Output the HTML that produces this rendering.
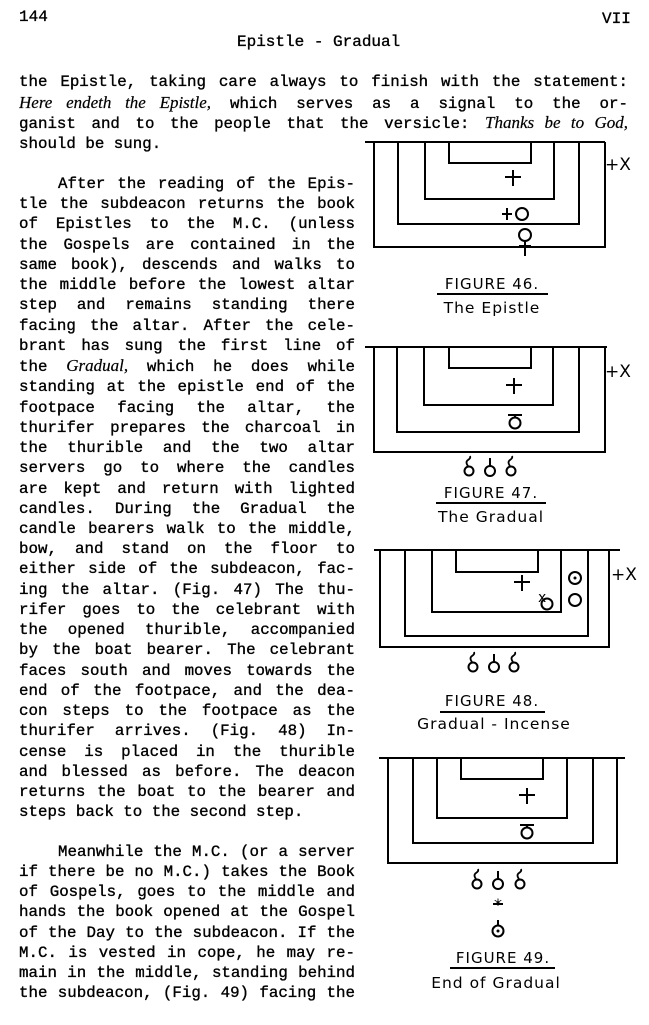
<!DOCTYPE html>
<html><head><meta charset="utf-8"><style>
body{margin:0;background:#fff;}
#p{position:relative;width:649px;height:1025px;overflow:hidden;background:#fff;color:#000;font-family:"Liberation Mono",monospace;}
.t{position:absolute;font-size:16px;white-space:nowrap;-webkit-text-stroke:0.35px #000;}
.blk{position:absolute;left:19px;font-size:15.8px;-webkit-text-stroke:0.35px #000;}
.blk div{text-align:justify;text-align-last:justify;white-space:normal;overflow:hidden;}
.n{width:336px;}
.w{width:609px;}
.nl{text-align-last:left !important;}
.ind{padding-left:39px;}
i{font-family:"Liberation Serif",serif;font-style:italic;font-size:17px;-webkit-text-stroke:0.2px #000;}
svg{position:absolute;left:0;top:0;}
</style></head><body><div id="p">
<div class="t" style="left:19px;top:8px;">144</div>
<div class="t" style="left:602px;top:10px;">VII</div>
<div class="t" style="left:237px;top:33px;">Epistle - Gradual</div>

<div class="blk w" style="top:72px;line-height:20.5px;">
<div style="height:20.5px">the Epistle, taking care always to finish with the statement:</div>
<div style="height:20.5px"><i>Here endeth the Epistle,</i> which serves as a signal to the or-</div>
<div style="height:20.5px">ganist and to the people that the versicle: <i>Thanks be to God,</i></div>
<div class="nl" style="height:20.5px">should be sung.</div>
</div>

<div class="blk n" style="top:174px;line-height:20.23px;">
<div class="ind">After the reading of the Epis-</div>
<div>tle the subdeacon returns the book</div>
<div>of Epistles to the M.C. (unless</div>
<div>the Gospels are contained in the</div>
<div>same book), descends and walks to</div>
<div>the middle before the lowest altar</div>
<div>step and remains standing there</div>
<div>facing the altar. After the cele-</div>
<div>brant has sung the first line of</div>
<div>the <i>Gradual,</i> which he does while</div>
<div>standing at the epistle end of the</div>
<div>footpace facing the altar, the</div>
<div>thurifer prepares the charcoal in</div>
<div>the thurible and the two altar</div>
<div>servers go to where the candles</div>
<div>are kept and return with lighted</div>
<div>candles. During the Gradual the</div>
<div>candle bearers walk to the middle,</div>
<div>bow, and stand on the floor to</div>
<div>either side of the subdeacon, fac-</div>
<div>ing the altar. (Fig. 47) The thu-</div>
<div>rifer goes to the celebrant with</div>
<div>the opened thurible, accompanied</div>
<div>by the boat bearer. The celebrant</div>
<div>faces south and moves towards the</div>
<div>end of the footpace, and the dea-</div>
<div>con steps to the footpace as the</div>
<div>thurifer arrives. (Fig. 48) In-</div>
<div>cense is placed in the thurible</div>
<div>and blessed as before. The deacon</div>
<div>returns the boat to the bearer and</div>
<div class="nl">steps back to the second step.</div>
</div>

<div class="blk n" style="top:842px;line-height:20.14px;">
<div class="ind">Meanwhile the M.C. (or a server</div>
<div>if there be no M.C.) takes the Book</div>
<div>of Gospels, goes to the middle and</div>
<div>hands the book opened at the Gospel</div>
<div>of the Day to the subdeacon. If the</div>
<div>M.C. is vested in cope, he may re-</div>
<div>main in the middle, standing behind</div>
<div>the subdeacon, (Fig. 49) facing the</div>
</div>

<svg width="649" height="1025" viewBox="0 0 649 1025" font-family="DejaVu Sans, sans-serif">
<defs>
<g id="cand"><circle cx="0" cy="4" r="4.5" fill="none" stroke="#000" stroke-width="2"/><path d="M-1,-1 q-3,-4 0,-6 q3,-2 2,-4" fill="none" stroke="#000" stroke-width="1.8"/></g>
<g id="thur"><circle cx="0" cy="4" r="5" fill="none" stroke="#000" stroke-width="2"/><line x1="0" y1="-1" x2="0" y2="-9" stroke="#000" stroke-width="2"/></g>
<g id="sd"><circle cx="0" cy="3" r="5.5" fill="none" stroke="#000" stroke-width="2"/><line x1="-7" y1="-5" x2="7" y2="-5" stroke="#000" stroke-width="2"/><line x1="0" y1="-5" x2="0" y2="-2" stroke="#000" stroke-width="2"/></g>
<g id="cr"><line x1="-8" y1="0" x2="8" y2="0" stroke="#000" stroke-width="2"/><line x1="0" y1="-7" x2="0" y2="9" stroke="#000" stroke-width="2"/></g>
</defs>
<g fill="none" stroke="#000" stroke-width="2">
<line x1="365" y1="142" x2="605" y2="142"/>
<polyline points="374,142 374,247 605,247 605,142"/>
<polyline points="398,142 398,224 579,224 579,142"/>
<polyline points="425,142 425,199 554,199 554,142"/>
<polyline points="449,142 449,163 531,163 531,142"/>
<line x1="437" y1="294" x2="548" y2="294"/>
<line x1="365" y1="347" x2="607" y2="347"/>
<polyline points="374,347 374,452 605,452 605,347"/>
<polyline points="397,347 397,432 579,432 579,347"/>
<polyline points="424,347 424,405 553,405 553,347"/>
<polyline points="449,347 449,368 531,368 531,347"/>
<line x1="436" y1="503" x2="546" y2="503"/>
<line x1="374" y1="550" x2="620" y2="550"/>
<polyline points="380,550 380,647 609,647 609,550"/>
<polyline points="405,550 405,636 588,636 588,550"/>
<polyline points="432,550 432,612 561,612 561,550"/>
<polyline points="456,550 456,572 538,572 538,550"/>
<line x1="440" y1="712" x2="545" y2="712"/>
<line x1="379" y1="758" x2="625" y2="758"/>
<polyline points="388,758 388,863 617,863 617,758"/>
<polyline points="413,758 413,843 593,843 593,758"/>
<polyline points="437,758 437,818 567,818 567,758"/>
<polyline points="461,758 461,779 543,779 543,758"/>
<line x1="450" y1="968" x2="555" y2="968"/>
</g>
<g fill="#000" font-size="16">
<use href="#cr" x="513" y="177"/>
<text x="605" y="170" font-size="17">+X</text>
<line x1="502" y1="214" x2="512" y2="214" stroke="#000" stroke-width="2"/><line x1="507" y1="208" x2="507" y2="220" stroke="#000" stroke-width="2"/>
<circle cx="522" cy="214" r="6" fill="none" stroke="#000" stroke-width="2"/>
<circle cx="525" cy="235" r="6" fill="none" stroke="#000" stroke-width="2"/><line x1="525" y1="241" x2="525" y2="256" stroke="#000" stroke-width="2"/><line x1="519" y1="246" x2="531" y2="246" stroke="#000" stroke-width="2"/>
<text x="492" y="289" text-anchor="middle" font-size="15" letter-spacing="1">FIGURE 46.</text>
<text x="492" y="313" text-anchor="middle" font-size="15.5" letter-spacing="1">The Epistle</text>
<use href="#cr" x="514" y="385"/>
<text x="605" y="377" font-size="17">+X</text>
<use href="#sd" x="515" y="420"/>
<use href="#cand" x="469" y="467"/><use href="#thur" x="490" y="467"/><use href="#cand" x="511" y="467"/>
<text x="491" y="498" text-anchor="middle" font-size="15" letter-spacing="1">FIGURE 47.</text>
<text x="491" y="522" text-anchor="middle" font-size="15.5" letter-spacing="1">The Gradual</text>
<use href="#cr" x="522" y="582"/>
<text x="538" y="602" font-size="14">x</text>
<circle cx="547" cy="604" r="5.5" fill="none" stroke="#000" stroke-width="2"/>
<circle cx="575" cy="578" r="6" fill="none" stroke="#000" stroke-width="2"/><circle cx="575" cy="578" r="1.5"/>
<circle cx="575" cy="600" r="6" fill="none" stroke="#000" stroke-width="2"/>
<text x="611" y="580" font-size="17">+X</text>
<use href="#cand" x="473" y="663"/><use href="#thur" x="494" y="663"/><use href="#cand" x="514" y="663"/>
<text x="492" y="706" text-anchor="middle" font-size="15" letter-spacing="1">FIGURE 48.</text>
<text x="494" y="729" text-anchor="middle" font-size="15.5" letter-spacing="1">Gradual - Incense</text>
<use href="#cr" x="527" y="795"/>
<use href="#sd" x="527" y="830"/>
<use href="#cand" x="477" y="880"/><use href="#thur" x="498" y="880"/><use href="#cand" x="520" y="880"/>
<text x="498" y="910" text-anchor="middle" font-size="16">*</text>
<line x1="493" y1="904" x2="503" y2="904" stroke="#000" stroke-width="2"/>
<circle cx="498" cy="931" r="5.5" fill="none" stroke="#000" stroke-width="2"/><circle cx="498" cy="931" r="1.5"/><line x1="498" y1="920" x2="498" y2="925" stroke="#000" stroke-width="2"/>
<text x="503" y="963" text-anchor="middle" font-size="15" letter-spacing="1">FIGURE 49.</text>
<text x="496" y="988" text-anchor="middle" font-size="15.5" letter-spacing="1">End  of Gradual</text>
</g>
</svg>
</div></body></html>
